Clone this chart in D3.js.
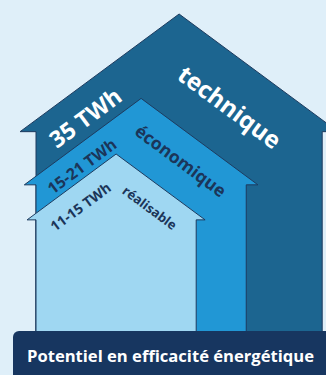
<!DOCTYPE html>
<html>
<head>
<meta charset="utf-8">
<script src="https://cdn.jsdelivr.net/npm/d3@7"></script>
<style>
  html, body { margin: 0; padding: 0; background: #dfeff9; }
  svg { display: block; font-family: "Open Sans", Lato, sans-serif; }
</style>
</head>
<body>
<div class="chart"></div>
<script>
// data
const levels = ["technique", "économique", "réalisable"];
const valueLabels = ["35 TWh", "15-21 TWh", "11-15 TWh"];
const maxTWh = [35, 21, 15];
const title = "Potentiel en efficacité énergétique";

const width = 326;
const height = 375;
const ground = 332;
const wallLeft = 36;
const slope = 0.74;
const angle = Math.atan(slope) * 180 / Math.PI;

const fills = ["#1c6590", "#2197d5", "#9fd7f2"];
const strokeCol = "#1d3b5f";
const navy = "#1b3559";

// label placement along the roofs (distance from apex, offset under roof)
const leftLab = [{s: 137, d: 27, size: 23, col: "#fff"}, {s: 88, d: 19, size: 16, col: navy}, {s: 60, d: 21, size: 14, col: navy}];
const rightLab = [{s: 96, d: 44, size: 24, col: "#fff"}, {s: 69, d: 26, size: 17.5, col: navy}, {s: 59, d: 23, size: 13, col: navy}];

// house size follows the upper value of each potential
const sizeScale = d3.scaleLog().domain([15, 35]).range([178, 318]);

const houses = maxTWh.map((v, i) => {
  const h = sizeScale(v);
  const w = 0.9 * h;
  const cx = wallLeft + w / 2;
  const apexY = ground - h;
  const eaveHalf = w / 2 + 0.05 * h;
  const eaveY = apexY + slope * eaveHalf;
  return {i, v, w, cx, apexY, eaveHalf, eaveY};
});

const svg = d3.select(".chart")
  .append("svg")
  .attr("width", width)
  .attr("height", height);

svg.append("rect")
  .attr("width", width)
  .attr("height", height)
  .attr("fill", "#dfeff9");

const line = d3.line();

svg.selectAll("path.house")
  .data(houses)
  .enter()
  .append("path")
    .attr("class", "house")
    .attr("d", d => line([
      [wallLeft, ground + 10],
      [wallLeft, d.eaveY],
      [d.cx - d.eaveHalf, d.eaveY],
      [d.cx, d.apexY],
      [d.cx + d.eaveHalf, d.eaveY],
      [d.cx + d.w / 2, d.eaveY],
      [d.cx + d.w / 2, ground + 10]
    ]) + "Z")
    .attr("fill", d => fills[d.i])
    .attr("stroke", strokeCol)
    .attr("stroke-width", 1);

// value labels on the left roof
svg.selectAll("text.value")
  .data(houses)
  .enter()
  .append("text")
    .attr("class", "value")
    .attr("transform", d => `translate(${d.cx},${d.apexY}) rotate(${-angle})`)
    .attr("x", d => -leftLab[d.i].s)
    .attr("y", d => leftLab[d.i].d)
    .attr("text-anchor", "middle")
    .attr("dominant-baseline", "central")
    .attr("font-weight", 700)
    .attr("font-size", d => leftLab[d.i].size)
    .attr("fill", d => leftLab[d.i].col)
    .text(d => valueLabels[d.i]);

// level names on the right roof
svg.selectAll("text.level")
  .data(houses)
  .enter()
  .append("text")
    .attr("class", "level")
    .attr("transform", d => `translate(${d.cx},${d.apexY}) rotate(${angle})`)
    .attr("x", d => rightLab[d.i].s)
    .attr("y", d => rightLab[d.i].d)
    .attr("text-anchor", "middle")
    .attr("dominant-baseline", "central")
    .attr("font-weight", 700)
    .attr("font-size", d => rightLab[d.i].size)
    .attr("fill", d => rightLab[d.i].col)
    .text(d => levels[d.i]);

// banner
svg.append("rect")
  .attr("x", 13)
  .attr("y", 331)
  .attr("width", 330)
  .attr("height", 60)
  .attr("rx", 6)
  .attr("fill", "#173660");

svg.append("text")
  .attr("x", 27)
  .attr("y", 362)
  .attr("font-weight", 700)
  .attr("font-size", 16.6)
  .attr("fill", "#fff")
  .text(title);
</script>
</body>
</html>
